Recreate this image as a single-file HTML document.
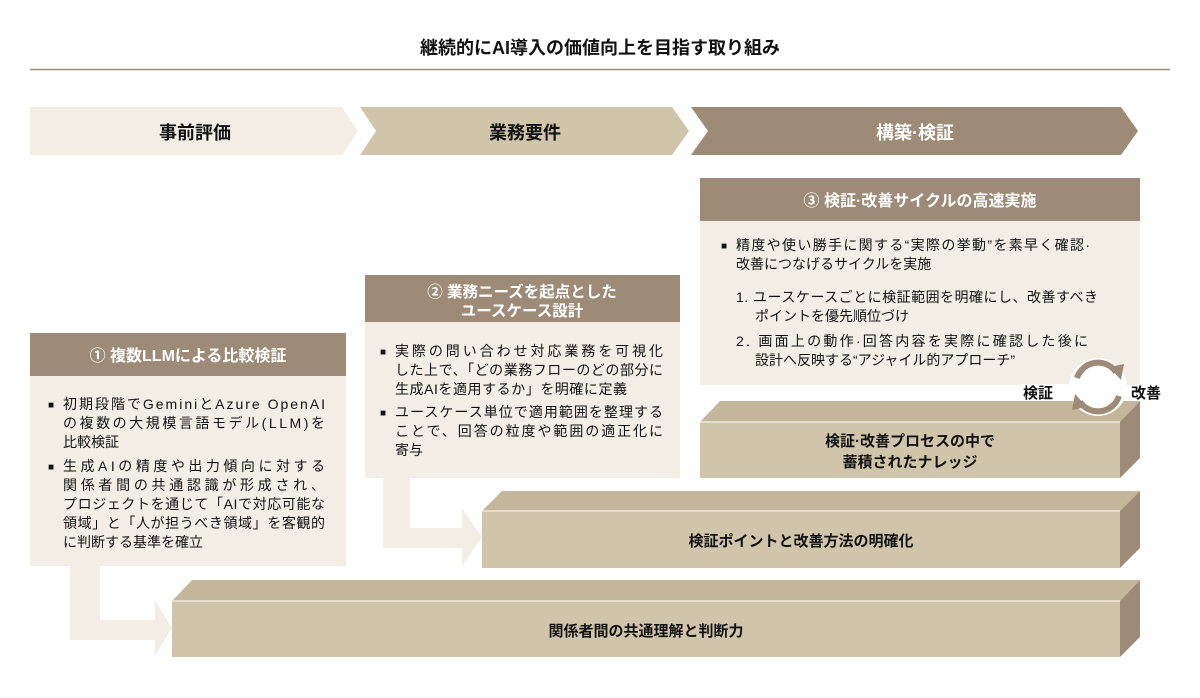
<!DOCTYPE html>
<html><head><meta charset="utf-8"><style>
body{margin:0;width:1200px;height:693px;background:#fff;overflow:hidden}
svg text{font-family:"Liberation Sans","Noto Sans CJK JP",sans-serif}
</style></head><body>
<svg width="1200" height="693" viewBox="0 0 1200 693" xmlns="http://www.w3.org/2000/svg">
<text x="600" y="54" text-anchor="middle" font-size="18" font-weight="bold" fill="#111">継続的にAI導入の価値向上を目指す取り組み</text>
<line x1="30" y1="69.5" x2="1170" y2="69.5" stroke="#9d8f80" stroke-width="1.5"/>
<polygon points="30,107 342,107 358,131 342,155 30,155" fill="#f3eee5"/>
<polygon points="360,107 672,107 689,131 672,155 360,155 376,131" fill="#d0c4aa"/>
<polygon points="691,107 1121,107 1138,131 1121,155 691,155 708,131" fill="#9d8b77"/>
<text x="195" y="139" text-anchor="middle" font-size="18" font-weight="bold" fill="#111">事前評価</text>
<text x="525" y="139" text-anchor="middle" font-size="18" font-weight="bold" fill="#111">業務要件</text>
<text x="915" y="139" text-anchor="middle" font-size="18" font-weight="bold" fill="#fff">構築·検証</text>

<polygon points="70,565 100,565 100,620 155,620 155,600 172,628 155,656 155,640 70,640" fill="#f3eee5"/>
<polygon points="383,478 410,478 410,528 462,528 462,508 482,537 462,566 462,548 383,548" fill="#f3eee5"/>

<g>
<polygon points="172,601 192,580 1140,580 1120,601" fill="#c4b69b"/>
<rect x="172" y="601" width="948" height="56" fill="#d0c4aa"/>
<polygon points="1120,601 1140,580 1140,637 1120,657" fill="#9d8b77"/>
<line x1="172" y1="601" x2="1120" y2="601" stroke="#eee8dc" stroke-width="1.5"/>
<text x="646" y="636" text-anchor="middle" font-size="15" font-weight="bold" fill="#111">関係者間の共通理解と判断力</text>
</g>
<g>
<polygon points="482,511 502,491 1140,491 1120,511" fill="#c4b69b"/>
<rect x="482" y="511" width="638" height="57" fill="#d0c4aa"/>
<polygon points="1120,511 1140,491 1140,548 1120,568" fill="#9d8b77"/>
<line x1="482" y1="511" x2="1120" y2="511" stroke="#eee8dc" stroke-width="1.5"/>
<text x="801" y="546" text-anchor="middle" font-size="15" font-weight="bold" fill="#111">検証ポイントと改善方法の明確化</text>
</g>
<g>
<polygon points="700,422 720,401 1140,401 1120,422" fill="#c4b69b"/>
<rect x="700" y="422" width="420" height="56" fill="#d0c4aa"/>
<polygon points="1120,422 1140,401 1140,458 1120,478" fill="#9d8b77"/>
<line x1="700" y1="422" x2="1120" y2="422" stroke="#eee8dc" stroke-width="1.5"/>
<text x="910" y="446" text-anchor="middle" font-size="15" font-weight="bold" fill="#111">検証·改善プロセスの中で</text>
<text x="910" y="467" text-anchor="middle" font-size="15" font-weight="bold" fill="#111">蓄積されたナレッジ</text>
</g>

<rect x="30" y="333" width="316" height="43" fill="#9d8b77"/>
<rect x="30" y="376" width="316" height="190" fill="#f3eee5"/>
<text x="188" y="361" text-anchor="middle" font-size="16" font-weight="bold" fill="#fff">① 複数LLMによる比較検証</text>
<g font-size="14" fill="#111">
<text x="48" y="408" font-size="10">■</text>
<text x="63" y="409" textLength="262">初期段階でGeminiとAzure OpenAI</text>
<text x="63" y="428" textLength="262">の複数の大規模言語モデル(LLM)を</text>
<text x="63" y="447">比較検証</text>
<text x="48" y="470" font-size="10">■</text>
<text x="63" y="471" textLength="262">生成AIの精度や出力傾向に対する</text>
<text x="63" y="490" textLength="262">関係者間の共通認識が形成され、</text>
<text x="63" y="509" textLength="262">プロジェクトを通じて「AIで対応可能な</text>
<text x="63" y="528" textLength="262">領域」と「人が担うべき領域」を客観的</text>
<text x="63" y="547">に判断する基準を確立</text>
</g>

<rect x="365" y="275" width="315" height="47" fill="#9d8b77"/>
<rect x="365" y="322" width="315" height="156" fill="#f3eee5"/>
<text x="522" y="297" text-anchor="middle" font-size="15.5" font-weight="bold" fill="#fff">② 業務ニーズを起点とした</text>
<text x="522" y="316" text-anchor="middle" font-size="15.5" font-weight="bold" fill="#fff">ユースケース設計</text>
<g font-size="14" fill="#111">
<text x="380" y="355" font-size="10">■</text>
<text x="395" y="356" textLength="268">実際の問い合わせ対応業務を可視化</text>
<text x="395" y="375" textLength="268">した上で、「どの業務フローのどの部分に</text>
<text x="395" y="394" textLength="232">生成AIを適用するか」を明確に定義</text>
<text x="380" y="416" font-size="10">■</text>
<text x="395" y="417" textLength="268">ユースケース単位で適用範囲を整理する</text>
<text x="395" y="436" textLength="268">ことで、回答の粒度や範囲の適正化に</text>
<text x="395" y="455">寄与</text>
</g>

<rect x="700" y="178" width="440" height="43" fill="#9d8b77"/>
<rect x="700" y="221" width="440" height="164" fill="#f3eee5"/>
<text x="920" y="206" text-anchor="middle" font-size="16" font-weight="bold" fill="#fff">③ 検証·改善サイクルの高速実施</text>
<g font-size="14" fill="#111">
<text x="721" y="249" font-size="10">■</text>
<text x="736" y="250" textLength="354">精度や使い勝手に関する“実際の挙動”を素早く確認·</text>
<text x="736" y="269">改善につなげるサイクルを実施</text>
<text x="736" y="302" textLength="362">1. ユースケースごとに検証範囲を明確にし、改善すべき</text>
<text x="755" y="321">ポイントを優先順位づけ</text>
<text x="736" y="346" textLength="352">2. 画面上の動作·回答内容を実際に確認した後に</text>
<text x="755" y="365">設計へ反映する“アジャイル的アプローチ”</text>
</g>

<rect x="1020" y="384" width="48" height="17" fill="#fff"/>
<circle cx="1098" cy="387" r="29" fill="#fff"/>
<g fill="none" stroke="#9d8b77" stroke-width="6">
<path d="M1077,378 A22,22 0 0 1 1116,372"/>
<path d="M1119,396 A22,22 0 0 1 1080,402"/>
</g>
<polygon points="1109,367 1124,364 1121,380" fill="#9d8b77"/>
<polygon points="1087,407 1072,410 1075,394" fill="#9d8b77"/>
<text x="1023" y="398" font-size="15" fill="#111" font-weight="bold">検証</text>
<text x="1131" y="398" font-size="15" fill="#111" font-weight="bold">改善</text>
</svg>
</body></html>
